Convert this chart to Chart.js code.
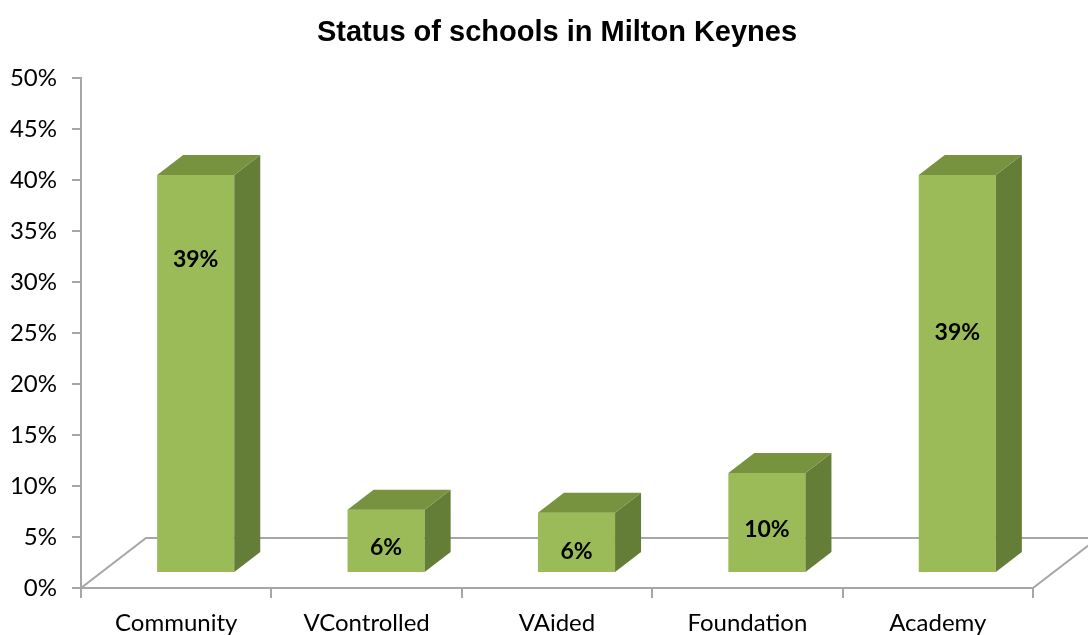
<!DOCTYPE html>
<html><head><meta charset="utf-8">
<script src="https://cdn.jsdelivr.net/npm/chart.js@4"></script>
<style>html,body{margin:0;padding:0;background:#fff}</style>
</head><body>
<canvas id="c" width="1088" height="635"></canvas>
<script>
// ---- data ----
const categories = ['Community', 'VControlled', 'VAided', 'Foundation', 'Academy'];
const shares = [39.0, 6.2, 5.9, 9.8, 39.0];
const shareLabels = ['39%', '6%', '6%', '10%', '39%'];
const yTickValues = [0, 5, 10, 15, 20, 25, 30, 35, 40, 45, 50];
const yTickLabels = ['0%', '5%', '10%', '15%', '20%', '25%', '30%', '35%', '40%', '45%', '50%'];

// ---- style / geometry ----
const DEPTH_X = 65, DEPTH_Y = 50, BAR_FRONT = 0.3, BAR_DEPTH = 0.4;
const AXIS_COL = '#a6a6a6';
const LABEL_AT = [30.7, 2.5, 2.1, 4.3, 23.6]; // label anchor heights (value units) as placed in the original

const threeD = {
  id: 'threeD',
  beforeDatasetsDraw(chart) {
    const {ctx, scales: {x, y}} = chart;
    const y0 = y.getPixelForValue(0);
    ctx.save();
    ctx.strokeStyle = AXIS_COL; ctx.lineWidth = 2;
    ctx.beginPath();
    ctx.moveTo(x.left, y0);
    ctx.lineTo(x.left + DEPTH_X, y0 - DEPTH_Y);
    ctx.lineTo(x.right + DEPTH_X, y0 - DEPTH_Y);
    ctx.lineTo(x.right, y0);
    ctx.stroke();
    ctx.restore();
    ctx.save();
    ctx.translate(DEPTH_X * BAR_FRONT, -DEPTH_Y * BAR_FRONT);
  },
  afterDatasetsDraw(chart) {
    const {ctx, scales: {y: ys}} = chart;
    ctx.restore();
    const meta = chart.getDatasetMeta(0);
    const fx = DEPTH_X * BAR_FRONT, fy = DEPTH_Y * BAR_FRONT;
    const bx = DEPTH_X * BAR_DEPTH, by = DEPTH_Y * BAR_DEPTH;
    ctx.save();
    meta.data.forEach((bar, i) => {
      const p = bar.getProps(['x', 'y', 'base', 'width'], true);
      const l = p.x - p.width / 2 + fx, r = p.x + p.width / 2 + fx;
      const t = p.y - fy, b = p.base - fy;
      ctx.fillStyle = '#657E37';
      ctx.beginPath();
      ctx.moveTo(r, t); ctx.lineTo(r + bx, t - by); ctx.lineTo(r + bx, b - by); ctx.lineTo(r, b);
      ctx.closePath(); ctx.fill();
      ctx.fillStyle = '#77933F';
      ctx.beginPath();
      ctx.moveTo(l, t); ctx.lineTo(l + bx, t - by); ctx.lineTo(r + bx, t - by); ctx.lineTo(r, t);
      ctx.closePath(); ctx.fill();
      ctx.fillStyle = '#000';
      ctx.font = 'bold 23px Lato';
      ctx.textAlign = 'center'; ctx.textBaseline = 'middle';
      ctx.fillText(shareLabels[i], p.x + fx, ys.getPixelForValue(LABEL_AT[i]) - fy);
    });
    ctx.restore();
  }
};

new Chart(document.getElementById('c'), {
  type: 'bar',
  data: {
    labels: categories,
    datasets: [{
      data: shares,
      backgroundColor: '#9BBB59',
      borderWidth: 0,
      barPercentage: 0.405,
      categoryPercentage: 1
    }]
  },
  plugins: [threeD],
  options: {
    responsive: false,
    animation: false,
    layout: {padding: {left: 0, right: 55, top: 0, bottom: 0}},
    plugins: {
      legend: {display: false},
      tooltip: {enabled: false},
      title: {
        display: true,
        text: 'Status of schools in Milton Keynes',
        fullSize: false,
        color: '#000',
        font: {family: 'Liberation Sans', size: 29, weight: 'bold'},
        padding: {top: 16, bottom: 27}
      }
    },
    scales: {
      x: {
        grid: {offset: true, drawOnChartArea: false, tickLength: 10, color: AXIS_COL, lineWidth: 2},
        border: {color: AXIS_COL, width: 2},
        ticks: {font: {family: 'Lato', size: 24}, color: '#000', padding: 11, maxRotation: 0},
        afterFit(s) { s.height = 47; }
      },
      y: {
        min: 0, max: 50,
        afterBuildTicks(s) { s.ticks = yTickValues.map(v => ({value: v})); },
        ticks: {
          font: {family: 'Lato', size: 24}, color: '#000', padding: 15,
          callback: (v) => yTickLabels[yTickValues.indexOf(v)]
        },
        grid: {drawOnChartArea: false, tickLength: 9, color: AXIS_COL, lineWidth: 2},
        border: {color: AXIS_COL, width: 2},
        afterFit(s) { s.width = 81; }
      }
    }
  }
});
</script>
</body></html>
